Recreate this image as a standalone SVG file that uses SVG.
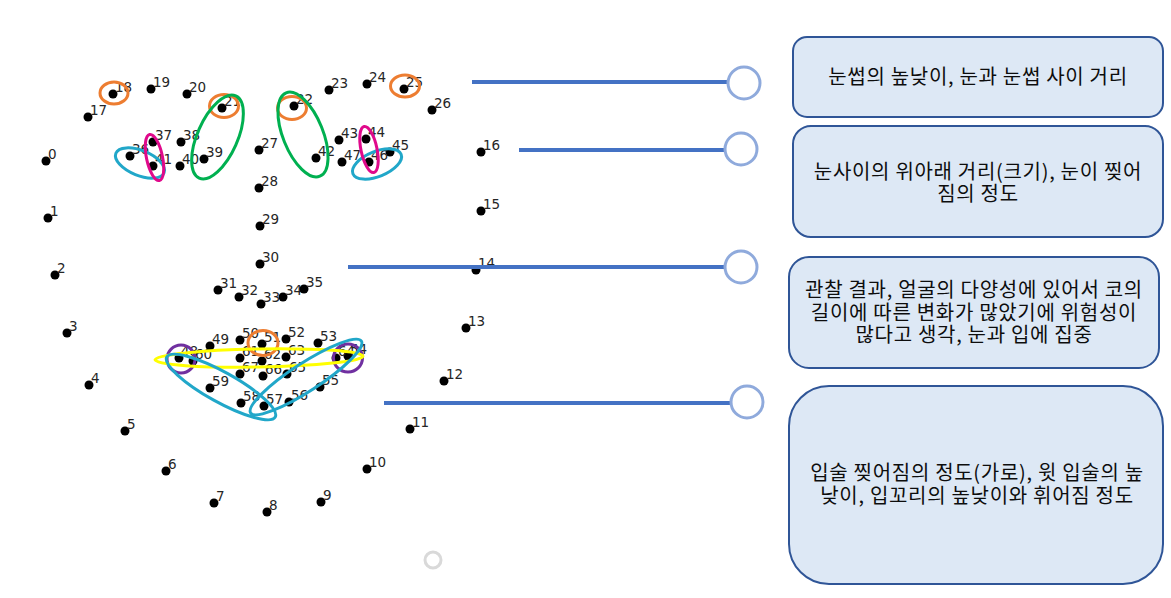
<svg xmlns="http://www.w3.org/2000/svg" width="1171" height="598" viewBox="0 0 1171 598">
<style>
.d{fill:#000}
.l{font-family:"DejaVu Sans",sans-serif;font-size:13.5px;fill:#262626}
.e{fill:none;stroke-width:3}
.or{stroke:#ed7d31}.gr{stroke:#00b050}.mg{stroke:#e0098b}.cy{stroke:#21a7c9}.ye{stroke:#ffff00}.pu{stroke:#7030a0}
.ln{stroke:#4472c4;stroke-width:4}
.cc{fill:#fff;stroke:#8faadc;stroke-width:3}
.bx{fill:#dde8f5;stroke:#2f5597;stroke-width:2}
.t{font-family:"Noto Sans CJK KR",sans-serif;font-size:20px;letter-spacing:0.7px;fill:#0d0d0d;text-anchor:middle}
</style>
<rect width="1171" height="598" fill="#fff"/>
<g id="landmarks">
<circle class="d" cx="46" cy="161" r="4.5"/><text class="l" x="48" y="159">0</text>
<circle class="d" cx="48" cy="218" r="4.5"/><text class="l" x="50" y="216">1</text>
<circle class="d" cx="55" cy="275" r="4.5"/><text class="l" x="57" y="273">2</text>
<circle class="d" cx="67" cy="333" r="4.5"/><text class="l" x="69" y="331">3</text>
<circle class="d" cx="89" cy="385" r="4.5"/><text class="l" x="91" y="383">4</text>
<circle class="d" cx="125" cy="431" r="4.5"/><text class="l" x="127" y="429">5</text>
<circle class="d" cx="166" cy="471" r="4.5"/><text class="l" x="168" y="469">6</text>
<circle class="d" cx="214" cy="503" r="4.5"/><text class="l" x="216" y="501">7</text>
<circle class="d" cx="267" cy="512" r="4.5"/><text class="l" x="269" y="510">8</text>
<circle class="d" cx="321" cy="502" r="4.5"/><text class="l" x="323" y="500">9</text>
<circle class="d" cx="367" cy="469" r="4.5"/><text class="l" x="369" y="467">10</text>
<circle class="d" cx="410" cy="429" r="4.5"/><text class="l" x="412" y="427">11</text>
<circle class="d" cx="444" cy="381" r="4.5"/><text class="l" x="446" y="379">12</text>
<circle class="d" cx="466" cy="328" r="4.5"/><text class="l" x="468" y="326">13</text>
<circle class="d" cx="476" cy="270" r="4.5"/><text class="l" x="478" y="268">14</text>
<circle class="d" cx="481" cy="211" r="4.5"/><text class="l" x="483" y="209">15</text>
<circle class="d" cx="481" cy="152" r="4.5"/><text class="l" x="483" y="150">16</text>
<circle class="d" cx="88" cy="117" r="4.5"/><text class="l" x="90" y="115">17</text>
<circle class="d" cx="113" cy="94" r="4.5"/><text class="l" x="115" y="92">18</text>
<circle class="d" cx="151" cy="89" r="4.5"/><text class="l" x="153" y="87">19</text>
<circle class="d" cx="187" cy="94" r="4.5"/><text class="l" x="189" y="92">20</text>
<circle class="d" cx="222" cy="108" r="4.5"/><text class="l" x="224" y="106">21</text>
<circle class="d" cx="294" cy="106" r="4.5"/><text class="l" x="296" y="104">22</text>
<circle class="d" cx="329" cy="90" r="4.5"/><text class="l" x="331" y="88">23</text>
<circle class="d" cx="367" cy="84" r="4.5"/><text class="l" x="369" y="82">24</text>
<circle class="d" cx="404" cy="89" r="4.5"/><text class="l" x="406" y="87">25</text>
<circle class="d" cx="432" cy="110" r="4.5"/><text class="l" x="434" y="108">26</text>
<circle class="d" cx="259" cy="150" r="4.5"/><text class="l" x="261" y="148">27</text>
<circle class="d" cx="259" cy="188" r="4.5"/><text class="l" x="261" y="186">28</text>
<circle class="d" cx="260" cy="226" r="4.5"/><text class="l" x="262" y="224">29</text>
<circle class="d" cx="260" cy="264" r="4.5"/><text class="l" x="262" y="262">30</text>
<circle class="d" cx="218" cy="290" r="4.5"/><text class="l" x="220" y="288">31</text>
<circle class="d" cx="239" cy="297" r="4.5"/><text class="l" x="241" y="295">32</text>
<circle class="d" cx="261" cy="304" r="4.5"/><text class="l" x="263" y="302">33</text>
<circle class="d" cx="283" cy="297" r="4.5"/><text class="l" x="285" y="295">34</text>
<circle class="d" cx="304" cy="289" r="4.5"/><text class="l" x="306" y="287">35</text>
<circle class="d" cx="130" cy="156" r="4.5"/><text class="l" x="132" y="154">36</text>
<circle class="d" cx="153" cy="142" r="4.5"/><text class="l" x="155" y="140">37</text>
<circle class="d" cx="181" cy="142" r="4.5"/><text class="l" x="183" y="140">38</text>
<circle class="d" cx="204" cy="159" r="4.5"/><text class="l" x="206" y="157">39</text>
<circle class="d" cx="180" cy="166" r="4.5"/><text class="l" x="182" y="164">40</text>
<circle class="d" cx="153" cy="166" r="4.5"/><text class="l" x="155" y="164">41</text>
<circle class="d" cx="316" cy="158" r="4.5"/><text class="l" x="318" y="156">42</text>
<circle class="d" cx="339" cy="140" r="4.5"/><text class="l" x="341" y="138">43</text>
<circle class="d" cx="366" cy="139" r="4.5"/><text class="l" x="368" y="137">44</text>
<circle class="d" cx="390" cy="152" r="4.5"/><text class="l" x="392" y="150">45</text>
<circle class="d" cx="369" cy="162" r="4.5"/><text class="l" x="371" y="160">46</text>
<circle class="d" cx="342" cy="162" r="4.5"/><text class="l" x="344" y="160">47</text>
<circle class="d" cx="179" cy="358" r="4.5"/><text class="l" x="181" y="356">48</text>
<circle class="d" cx="210" cy="346" r="4.5"/><text class="l" x="212" y="344">49</text>
<circle class="d" cx="240" cy="340" r="4.5"/><text class="l" x="242" y="338">50</text>
<circle class="d" cx="262" cy="344" r="4.5"/><text class="l" x="264" y="342">51</text>
<circle class="d" cx="286" cy="339" r="4.5"/><text class="l" x="288" y="337">52</text>
<circle class="d" cx="318" cy="343" r="4.5"/><text class="l" x="320" y="341">53</text>
<circle class="d" cx="348" cy="356" r="4.5"/><text class="l" x="350" y="354">54</text>
<circle class="d" cx="320" cy="387" r="4.5"/><text class="l" x="322" y="385">55</text>
<circle class="d" cx="289" cy="402" r="4.5"/><text class="l" x="291" y="400">56</text>
<circle class="d" cx="264" cy="406" r="4.5"/><text class="l" x="266" y="404">57</text>
<circle class="d" cx="241" cy="403" r="4.5"/><text class="l" x="243" y="401">58</text>
<circle class="d" cx="210" cy="388" r="4.5"/><text class="l" x="212" y="386">59</text>
<circle class="d" cx="193" cy="361" r="4.5"/><text class="l" x="195" y="359">60</text>
<circle class="d" cx="240" cy="358" r="4.5"/><text class="l" x="242" y="356">61</text>
<circle class="d" cx="262" cy="361" r="4.5"/><text class="l" x="264" y="359">62</text>
<circle class="d" cx="286" cy="357" r="4.5"/><text class="l" x="288" y="355">63</text>
<circle class="d" cx="336" cy="358" r="4.5"/><text class="l" x="338" y="356">64</text>
<circle class="d" cx="287" cy="374" r="4.5"/><text class="l" x="289" y="372">65</text>
<circle class="d" cx="263" cy="376" r="4.5"/><text class="l" x="265" y="374">66</text>
<circle class="d" cx="240" cy="374" r="4.5"/><text class="l" x="242" y="372">67</text>
</g>
<g id="highlights">
<ellipse class="e or" cx="114" cy="93" rx="14" ry="11"/>
<ellipse class="e or" cx="224" cy="106" rx="14.5" ry="11.5"/>
<ellipse class="e or" cx="292" cy="108" rx="14.5" ry="11.5"/>
<ellipse class="e or" cx="405" cy="86" rx="14.5" ry="11"/>
<ellipse class="e gr" cx="217.5" cy="137" rx="20" ry="45" transform="rotate(24 217.5 137)"/>
<ellipse class="e gr" cx="303" cy="134.5" rx="20" ry="45" transform="rotate(-22 303 134.5)"/>
<ellipse class="e cy" cx="140" cy="163" rx="26" ry="12.5" transform="rotate(22 140 163)"/>
<ellipse class="e cy" cx="377" cy="164" rx="26" ry="12.5" transform="rotate(-22 377 164)"/>
<ellipse class="e mg" cx="154.5" cy="157.5" rx="8" ry="23.5" transform="rotate(-12 154.5 157.5)"/>
<ellipse class="e mg" cx="369" cy="149.5" rx="8" ry="23.5" transform="rotate(-12 369 149.5)"/>
<ellipse class="e pu" cx="181" cy="359" rx="14" ry="14"/>
<ellipse class="e pu" cx="348" cy="358" rx="14.5" ry="14"/>
<ellipse class="e or" cx="263" cy="343" rx="15" ry="12.5"/>
<ellipse class="e ye" cx="259" cy="358" rx="104" ry="9" transform="rotate(-1 259 358)"/>
<ellipse class="e cy" cx="221" cy="387" rx="62" ry="15" transform="rotate(29 221 387)"/>
<ellipse class="e cy" cx="306" cy="377" rx="66" ry="14" transform="rotate(-33 306 377)"/>
<circle cx="433" cy="560" r="8" fill="none" stroke="#d9d9d9" stroke-width="3"/>
</g>
<g id="connectors">
<line class="ln" x1="472" y1="82" x2="728" y2="82"/>
<circle class="cc" cx="744" cy="83" r="16"/>
<line class="ln" x1="519" y1="150" x2="725" y2="150"/>
<circle class="cc" cx="741" cy="149" r="16"/>
<line class="ln" x1="348" y1="267" x2="725" y2="267"/>
<circle class="cc" cx="741" cy="267" r="16"/>
<line class="ln" x1="384" y1="403" x2="731" y2="403"/>
<circle class="cc" cx="747" cy="402" r="16"/>
</g>
<g id="box1">
<rect class="bx" x="793" y="37" width="370" height="80" rx="14"/>
<text class="t" x="978" y="84">눈썹의 높낮이, 눈과 눈썹 사이 거리</text>
</g>
<g id="box2">
<rect class="bx" x="793" y="126" width="370" height="111" rx="18"/>
<text class="t" x="978" y="179">눈사이의 위아래 거리(크기), 눈이 찢어</text>
<text class="t" x="978" y="201">짐의 정도</text>
</g>
<g id="box3">
<rect class="bx" x="789" y="257" width="370" height="111" rx="20"/>
<text class="t" x="974" y="297">관찰 결과, 얼굴의 다양성에 있어서 코의</text>
<text class="t" x="974" y="320">길이에 따른 변화가 많았기에 위험성이</text>
<text class="t" x="974" y="342">많다고 생각, 눈과 입에 집중</text>
</g>
<g id="box4">
<rect class="bx" x="789" y="386" width="374" height="198" rx="40"/>
<text class="t" x="977" y="480">입술 찢어짐의 정도(가로), 윗 입술의 높</text>
<text class="t" x="977" y="503">낮이, 입꼬리의 높낮이와 휘어짐 정도</text>
</g>
</svg>
